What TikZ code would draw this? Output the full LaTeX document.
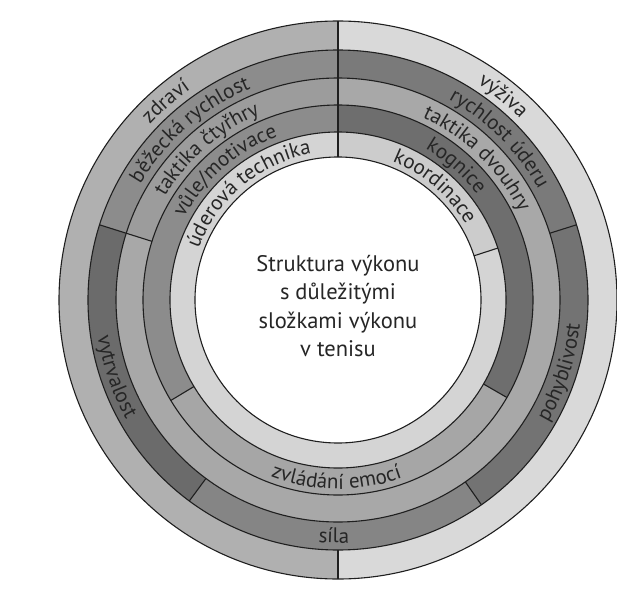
\documentclass[tikz,border=0pt]{standalone}
\usepackage{fontspec}
\setmainfont{PT Sans}
\usepackage{tikz}
\usetikzlibrary{decorations.text}

\newcommand{\lblfont}{\fontsize{21}{21}\selectfont}
\newcommand{\toplbl}[3]{\path[decorate,decoration={text along path,text align=center,text color=black!85,text={|\lblfont|#3}}] ({#2+50}:#1) arc[start angle={#2+50},end angle={#2-50},radius=#1];}
\newcommand{\botlbl}[3]{\path[decorate,decoration={text along path,text align=center,text color=black!85,text={|\lblfont|#3}}] ({#2-50}:#1) arc[start angle={#2-50},end angle={#2+50},radius=#1];}

\begin{document}
\begin{tikzpicture}[x=1pt,y=1pt,ringline/.style={line width=1.1pt,black!88}]
\fill[white] (-338,-308) rectangle (279,300);
\useasboundingbox (-338,-308) rectangle (279,300);
\foreach \ri/\ro/\a/\b/\g in {250/279/90/270/31, 250/279/-90/90/15,
  222/250/90/162.5/45, 222/250/162.5/233.5/58, 222/250/233.5/305/48, 222/250/305/377.5/55, 222/250/17.5/90/52,
  195/222/90/162.5/39, 195/222/162.5/450/34,
  168/195/90/211/45, 168/195/211/330/35, 168/195/330/450/57,
  143/168/90/378/17, 143/168/18/90/20}
  \fill[black!\g] (\a:\ro) arc[start angle=\a,end angle=\b,radius=\ro] -- (\b:\ri) arc[start angle=\b,end angle=\a,radius=\ri] -- cycle;
\foreach \r in {279,250,222,195,168,143}
  \draw[ringline] (0,0) circle[radius=\r];
\foreach \a/\ri/\ro in {90/143/279, 270/250/279, 162.5/195/250, 233.5/222/250, 305/222/250, 17.5/222/250, 211/168/195, 330/168/195, 18/143/168}
  \draw[ringline] (\a:\ri) -- (\a:\ro);
\node[align=center,text=black!85,font=\fontsize{22.5}{28.5}\selectfont] (title) at (0,-6) {Struktura výkonu\\s důležitými\\složkami výkonu\\v tenisu};
\toplbl{257}{131}{zdraví}
\toplbl{257}{51}{výživa}
\toplbl{229}{131}{běžecká rychlost}
\toplbl{229}{45}{rychlost úderu}
\toplbl{201.5}{131}{taktika čtyřhry}
\toplbl{201.5}{45.5}{taktika dvouhry}
\toplbl{174.5}{131}{vůle/motivace}
\toplbl{174.5}{48.5}{kognice}
\toplbl{148.5}{130}{úderová technika}
\toplbl{148.5}{49.5}{koordinace}
\botlbl{189}{-90.5}{zvládání emocí}
\botlbl{243}{-91}{síla}
\botlbl{243}{199}{vytrvalost}
\botlbl{243}{-18}{pohyblivost}
\end{tikzpicture}
\end{document}
